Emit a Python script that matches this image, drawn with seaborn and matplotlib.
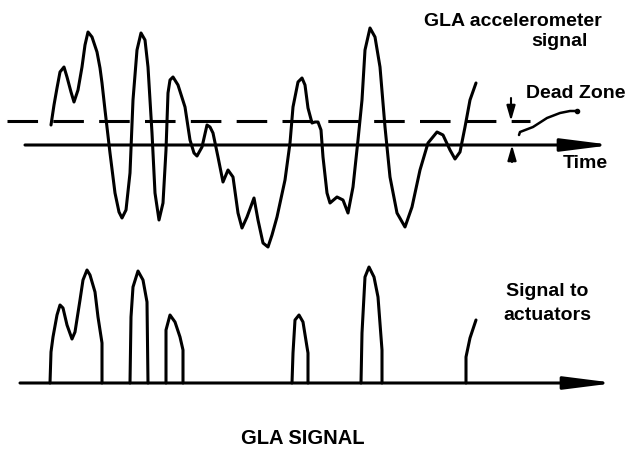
import numpy as np
import pandas as pd
import seaborn as sns
import matplotlib.pyplot as plt

# accelerometer signal (time in px, amplitude above the time axis)
sig_time = [51, 54, 57, 60, 64, 67, 71, 74, 78, 82, 85, 88, 92, 97, 100, 102, 105, 110, 115, 119,
            122, 126, 130, 133, 137, 141, 145, 148, 152, 155, 159, 163, 166, 168, 170, 173, 178, 185,
            190, 194, 197, 202, 207, 210, 213, 218, 223, 228, 233, 238, 242, 247, 254, 258, 263, 268,
            272, 277, 285, 290, 293, 298, 302, 305, 308, 312, 315, 318, 321, 323, 327, 330, 337, 343,
            348, 353, 358, 362, 365, 370, 375, 380, 385, 390, 397, 405, 412, 420, 428, 437, 443, 450,
            455, 460, 465, 470, 476]
sig_amp = [20, 40, 57, 73, 78, 68, 53, 43, 55, 78, 100, 113, 108, 93, 77, 62, 35, -8, -48, -67,
           -73, -65, -28, 45, 95, 112, 105, 78, 12, -48, -75, -58, -5, 52, 65, 68, 60, 38,
           5, -8, -11, -2, 20, 18, 12, -12, -37, -25, -32, -68, -83, -72, -53, -75, -98, -102,
           -90, -72, -35, 2, 38, 63, 67, 60, 37, 22, 23, 23, 15, -12, -48, -58, -52, -55,
           -68, -42, 5, 45, 95, 117, 108, 78, 18, -32, -68, -82, -62, -25, 2, 13, 10, -5,
           -14, -7, 18, 45, 62]

dead_zone = 24

# signal to actuators, one list per pulse
pulse_id = [1] * 17 + [2] * 7 + [3] * 7 + [4] * 8 + [5] * 8 + [6] * 4
act_time = [50, 51, 53, 57, 60, 63, 67, 72, 75, 80, 83, 87, 90, 95, 98, 102, 102,
            130, 131, 133, 138, 143, 147, 148,
            166, 166, 170, 175, 180, 183, 183,
            292, 293, 295, 299, 303, 307, 308, 308,
            361, 362, 365, 369, 374, 378, 382, 382,
            466, 466, 470, 476]
act_amp = [0, 31, 46, 68, 78, 75, 58, 44, 51, 83, 103, 113, 108, 91, 66, 40, 0,
           0, 66, 96, 112, 103, 81, 0,
           0, 53, 68, 61, 46, 33, 0,
           0, 30, 63, 68, 61, 36, 30, 0,
           0, 50, 106, 116, 106, 86, 33, 0,
           0, 26, 45, 63]

sig = pd.DataFrame({'time': sig_time, 'amp': sig_amp})
act = pd.DataFrame({'time': act_time, 'amp': act_amp, 'pulse': pulse_id})

sns.set_theme(style='white')
plt.rcParams['font.family'] = ['Liberation Sans', 'DejaVu Sans']
plt.rcParams['lines.solid_joinstyle'] = 'round'
plt.rcParams['lines.solid_capstyle'] = 'round'

fig = plt.figure(figsize=(6.27, 4.49), dpi=100)
ax1 = fig.add_axes([0, 199 / 449, 1, 250 / 449])
ax2 = fig.add_axes([0, 0, 1, 199 / 449])

lw = 2.2
txt = dict(fontsize=14, fontweight='bold', ha='center', va='center', color='black')
arrow = dict(arrowstyle='-|>,head_length=1.5,head_width=0.19', lw=lw, color='black',
             mutation_scale=20, shrinkA=0, shrinkB=0)

# top: accelerometer signal
sns.lineplot(data=sig, x='time', y='amp', sort=False, color='black', lw=lw, ax=ax1)
ax1.plot([7, 530], [dead_zone, dead_zone], color='black', lw=lw, ls=(0, (10, 5)),
         dash_capstyle='butt')
ax1.annotate('', xy=(612, 0), xytext=(25, 0), arrowprops=arrow)

small = dict(arrowstyle='-|>,head_length=0.45,head_width=0.13', lw=1.5, color='black',
             mutation_scale=20, shrinkA=0, shrinkB=0)
ax1.annotate('', xy=(511, dead_zone), xytext=(511, 47), arrowprops=small)
ax1.annotate('', xy=(512, 0), xytext=(512, -17), arrowprops=small)
ax1.plot([519, 520, 533, 547, 560, 570, 577], [10, 13, 18, 27, 32, 34, 34], color='black', lw=1.8)
ax1.plot([577], [34], 'o', color='black', ms=3)

ax1.text(513, 124, 'GLA accelerometer', **txt)
ax1.text(559, 103, 'signal', **txt)
ax1.text(576, 52, 'Dead Zone', **txt)
ax1.text(585, -18, 'Time', **txt)
ax1.set(xlim=(0, 627), ylim=(-105, 145))

# bottom: signal to actuators
sns.lineplot(data=act, x='time', y='amp', units='pulse', estimator=None, sort=False,
             color='black', lw=lw, ax=ax2)
ax2.annotate('', xy=(615, 0), xytext=(20, 0), arrowprops=arrow)
ax2.text(547, 91, 'Signal to', **txt)
ax2.text(547, 68, 'actuators', **txt)
ax2.text(303, -56, 'GLA SIGNAL', **dict(txt, fontsize=14.5))
ax2.set(xlim=(0, 627), ylim=(-66, 133))

for ax in (ax1, ax2):
    ax.set_axis_off()

fig.savefig('out.png', dpi=100)
